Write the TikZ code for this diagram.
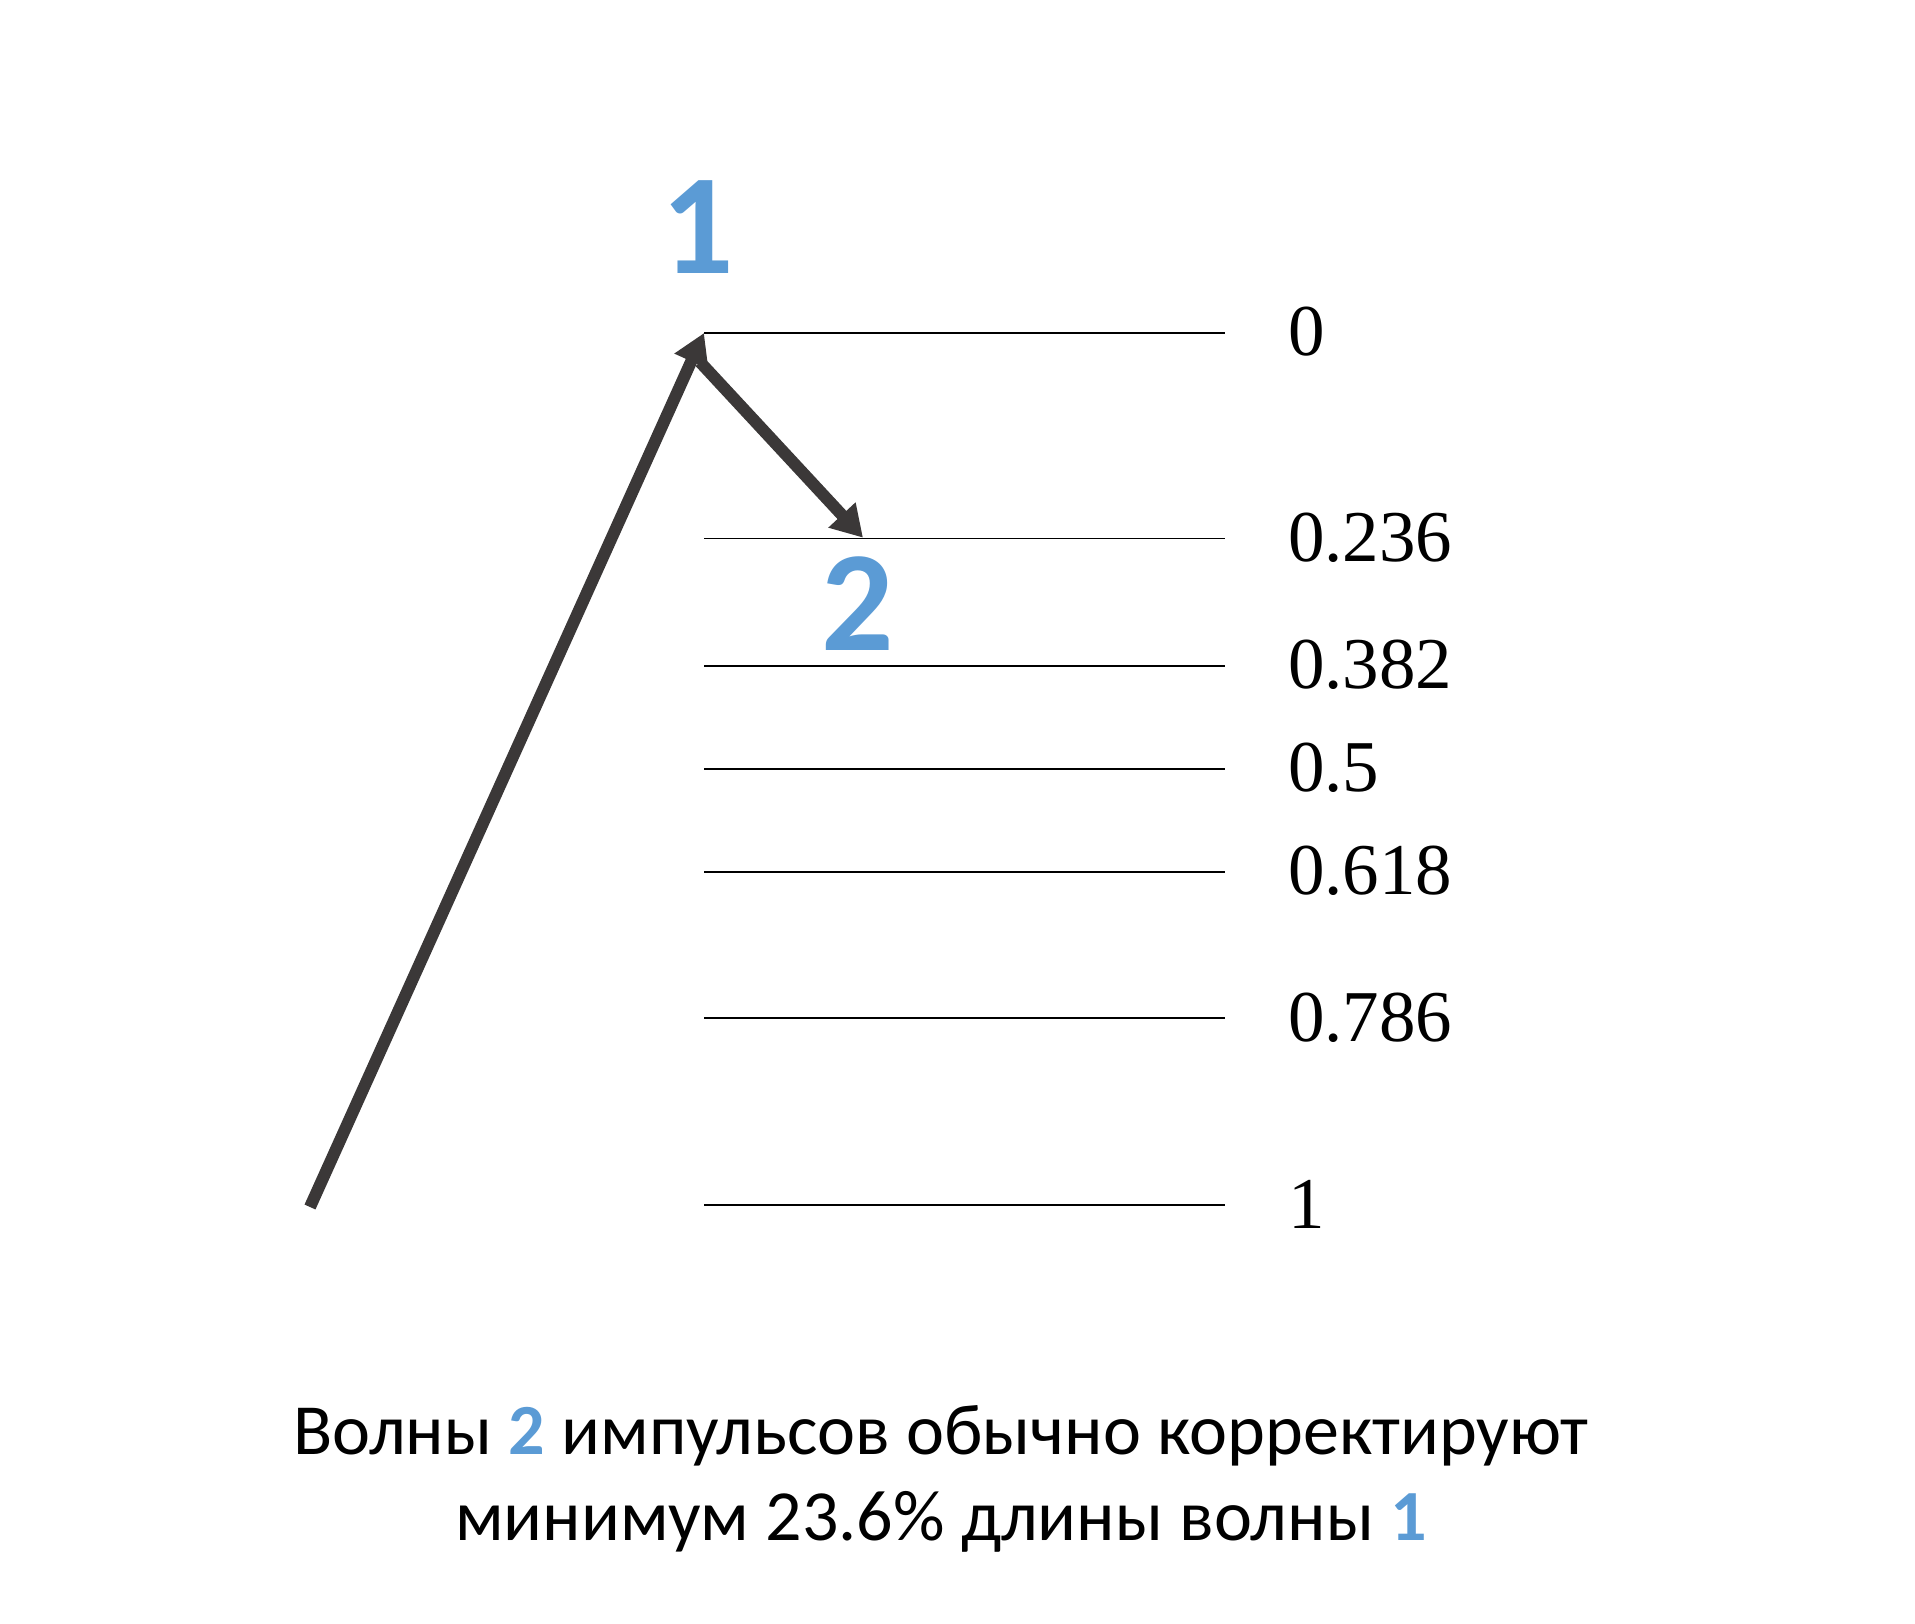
\documentclass[tikz,border=0pt]{standalone}
\usepackage{fontspec}
\setmainfont{Liberation Serif}
\newfontfamily\capfont{Carlito}
\usetikzlibrary{arrows.meta}
\definecolor{wave}{RGB}{59,56,56}
\definecolor{wblue}{RGB}{91,155,213}
\begin{document}
\begin{tikzpicture}[x=1pt,y=-1pt,
  level/.style={draw=black,line width=1.8pt},
  lvllabel/.style={anchor=base west,inner sep=0pt,font=\fontsize{73}{88}\selectfont},
  wavearrow/.style={draw=wave,line width=12pt,-{Triangle[length=31pt,width=35pt]}},
  wavenum/.style={anchor=base,inner sep=0pt,text=wblue,font=\capfont\bfseries\fontsize{143}{160}\selectfont},
  caption/.style={anchor=base,inner sep=0pt,font=\capfont\fontsize{72}{86}\selectfont}]
\useasboundingbox (0,0) rectangle (1915,1624);
% Fibonacci levels
\foreach \r/\lab [count=\i] in {0/0, 0.236/0.236, 0.382/0.382, 0.5/0.5, 0.618/0.618, 0.786/0.786, 1/1}{
  \pgfmathsetmacro{\yy}{332.7+872.3*\r}
  \coordinate (la\i) at (704,\yy);
  \coordinate (lb\i) at (1225,\yy);
  \draw[level] (la\i) -- (lb\i);
  \node[lvllabel] (lab\i) at (1288,\yy+23) {\lab};
}
% waves
\coordinate (w0) at (310,1207);
\coordinate (w1) at (704,333);
\coordinate (s2) at (700,362);
\coordinate (w2) at (863,537.7);
\draw[wavearrow] (w0) -- (w1);
\draw[wavearrow] (s2) -- (w2);
\node[wavenum] (n1) at (698,273) {1};
\node[wavenum] (n2) at (858,650) {2};
% caption
\node[caption] (c1) at (941,1454) {Волны {\color{wblue}\bfseries 2} импульсов обычно корректируют};
\node[caption] (c2) at (941,1540) {минимум 23.6\% длины волны {\color{wblue}\bfseries 1}};
\end{tikzpicture}
\end{document}
